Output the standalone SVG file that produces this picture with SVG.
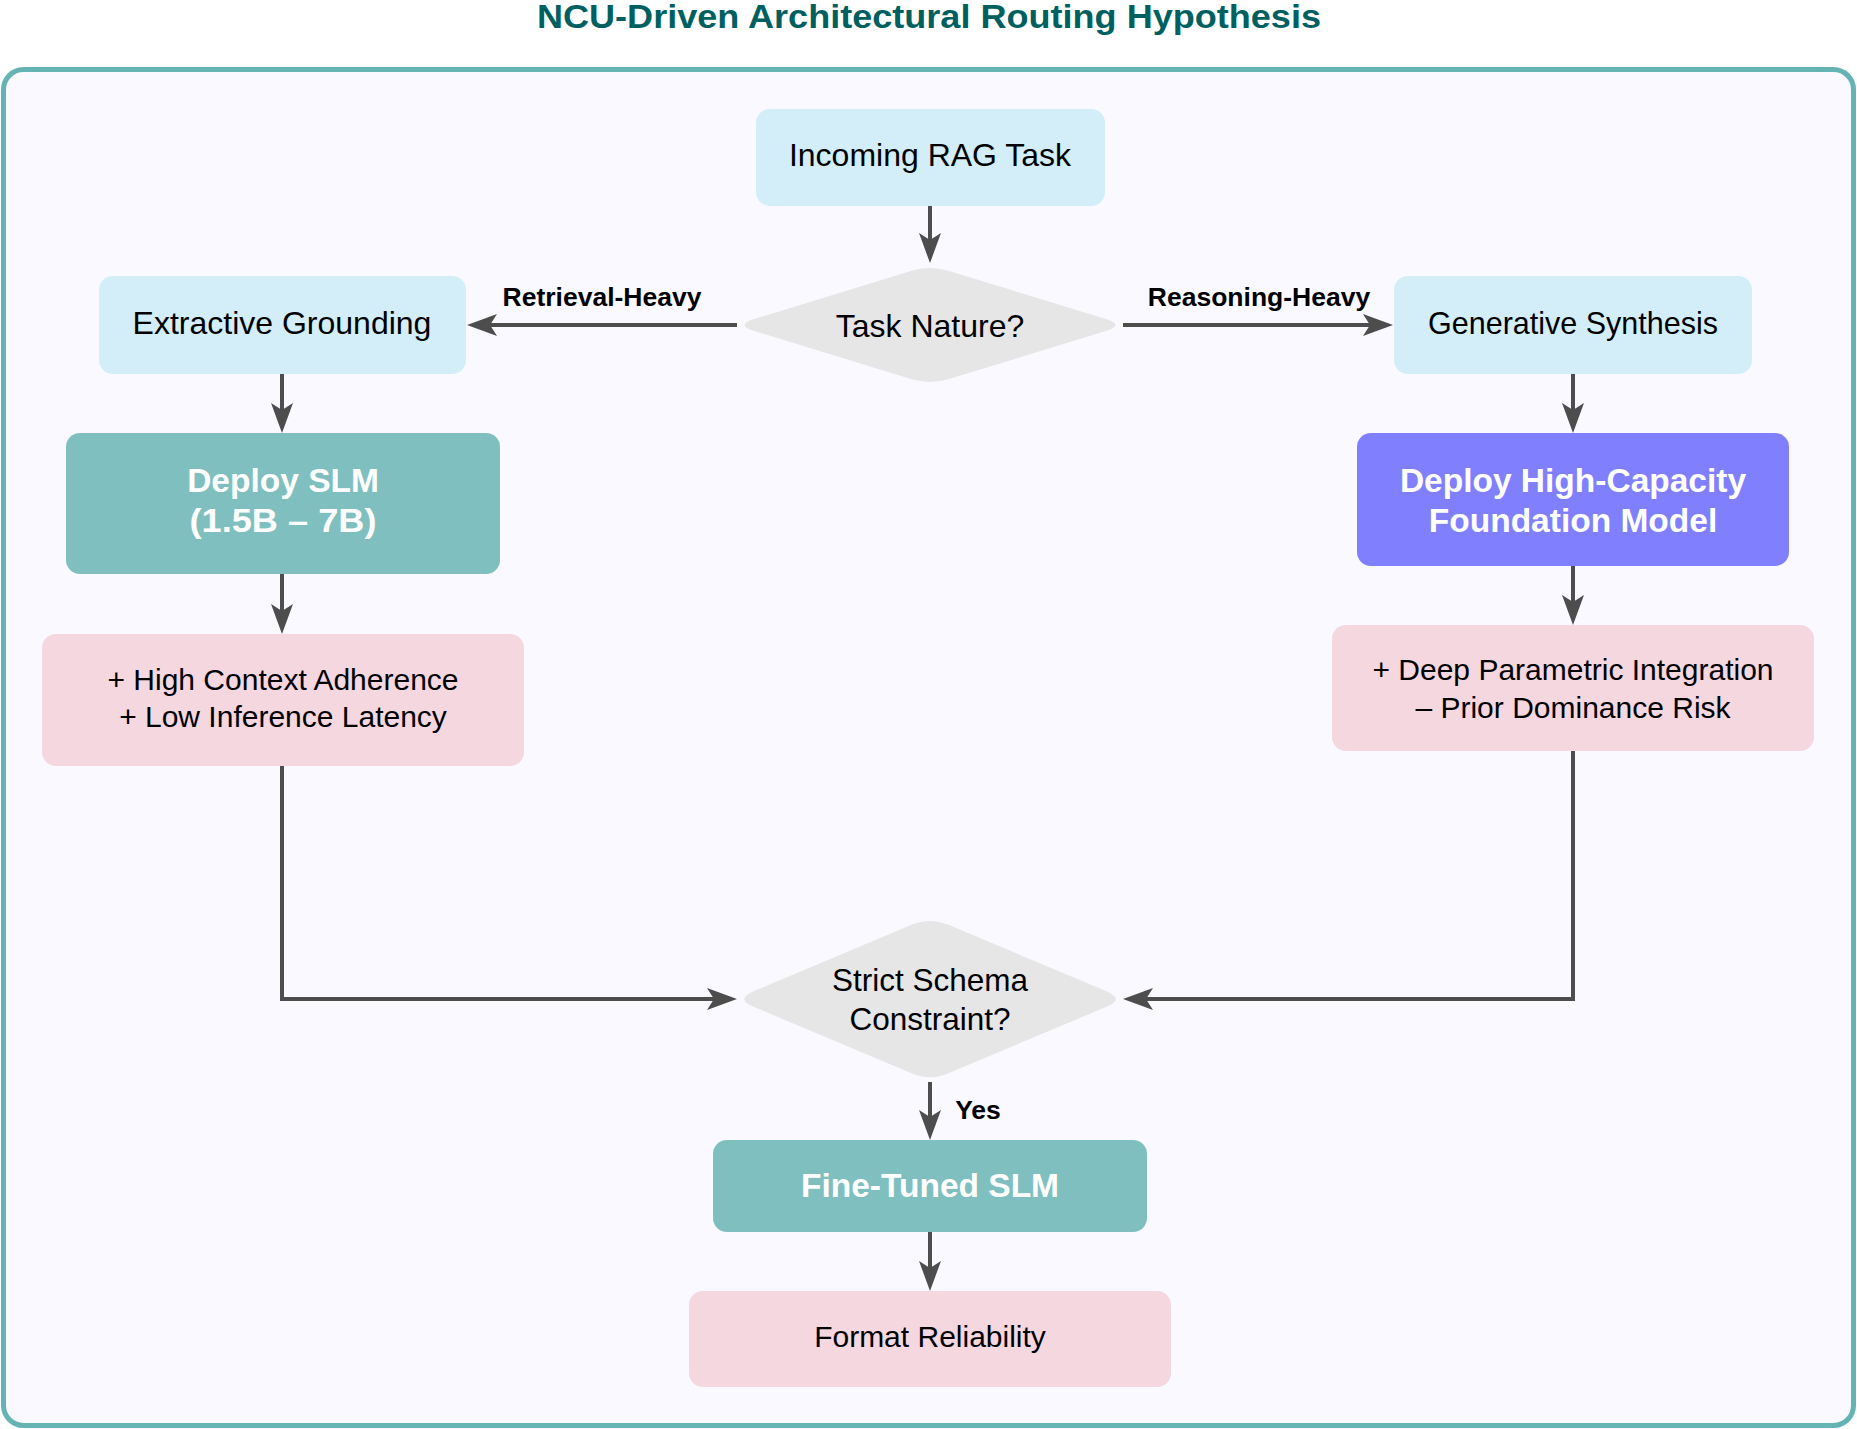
<svg xmlns="http://www.w3.org/2000/svg" width="1857" height="1429" viewBox="0 0 1857 1429">
<defs>
<style>
.t{font-family:"Liberation Sans",Arial,sans-serif;font-size:30px;fill:#000;text-anchor:middle}
.tm{font-family:"Liberation Sans",Arial,sans-serif;font-size:32px;fill:#000;text-anchor:middle}
.tb{font-family:"Liberation Sans",Arial,sans-serif;font-size:33.5px;font-weight:bold;fill:#fff;text-anchor:middle}
.lbl{font-family:"Liberation Sans",Arial,sans-serif;font-size:26.5px;font-weight:bold;fill:#000;text-anchor:middle}
.blue{fill:#d3eef9}
.teal{fill:#80bfbf}
.purple{fill:#8080ff}
.pink{fill:#f5d7e0}
.dia{fill:#e6e6e6}
.c{fill:none;stroke:#4d4d4d;stroke-width:4;marker-end:url(#ah)}
</style>
<marker id="ah" markerUnits="userSpaceOnUse" markerWidth="34" markerHeight="26" viewBox="-22 -13 34 26" refX="0" refY="0" orient="auto">
<path d="M10,0 L-20,-11 L-13,0 L-20,11 Z" fill="#4d4d4d"/>
</marker>
</defs>
<rect width="1857" height="1429" fill="#ffffff"/>
<text x="929" y="28" textLength="784" lengthAdjust="spacingAndGlyphs" style="font-family:'Liberation Sans',Arial,sans-serif;font-size:34px;font-weight:bold;fill:#005f5f;text-anchor:middle">NCU-Driven Architectural Routing Hypothesis</text>
<rect id="frame" x="3.5" y="69.5" width="1850" height="1356" rx="20" fill="#f9f9ff" stroke="#66b3b3" stroke-width="5"/>

<g id="connectors">
<path class="c" d="M930,206 L930,253"/>
<path class="c" d="M737,325 L477,325"/>
<path class="c" d="M1123,325 L1383,325"/>
<path class="c" d="M282,374 L282,423"/>
<path class="c" d="M282,574 L282,624"/>
<path class="c" d="M1573,374 L1573,423"/>
<path class="c" d="M1573,566 L1573,615"/>
<path class="c" d="M282,766 L282,999 L727,999"/>
<path class="c" d="M1573,751 L1573,999 L1133,999"/>
<path class="c" d="M930,1082 L930,1130"/>
<path class="c" d="M930,1232 L930,1281"/>
<text class="lbl" x="602" y="306">Retrieval-Heavy</text>
<text class="lbl" x="1259" y="306">Reasoning-Heavy</text>
<text class="lbl" x="978" y="1119">Yes</text>
</g>

<g id="incoming">
<rect class="blue" x="756" y="109" width="349" height="97" rx="14"/>
<text class="tm" x="930" y="166">Incoming RAG Task</text>
</g>

<g id="task-nature">
<path class="dia" d="M910.88,270.88 Q930,265 949.12,270.88 L1105.88,319.12 Q1125,325 1105.88,330.88 L949.12,379.12 Q930,385 910.88,379.12 L754.12,330.88 Q735,325 754.12,319.12 Z"/>
<text class="tm" x="930" y="337">Task Nature?</text>
</g>

<g id="extractive">
<rect class="blue" x="99" y="276" width="367" height="98" rx="14"/>
<text class="tm" x="282" y="334">Extractive Grounding</text>
</g>

<g id="generative">
<rect class="blue" x="1394" y="276" width="358" height="98" rx="14"/>
<text class="tm" x="1573" y="334" style="font-size:30.5px">Generative Synthesis</text>
</g>

<g id="deploy-slm">
<rect class="teal" x="66" y="433" width="434" height="141" rx="14"/>
<text class="tb" x="283" y="492">Deploy SLM</text>
<text class="tb" x="283" y="532" textLength="187" lengthAdjust="spacingAndGlyphs">(1.5B – 7B)</text>
</g>

<g id="deploy-hc">
<rect class="purple" x="1357" y="433" width="432" height="133" rx="14"/>
<text class="tb" x="1573" y="492">Deploy High-Capacity</text>
<text class="tb" x="1573" y="532">Foundation Model</text>
</g>

<g id="slm-props">
<rect class="pink" x="42" y="634" width="482" height="132" rx="14"/>
<text class="t" x="283" y="690">+ High Context Adherence</text>
<text class="t" x="283" y="727">+ Low Inference Latency</text>
</g>

<g id="hc-props">
<rect class="pink" x="1332" y="625" width="482" height="126" rx="14"/>
<text class="t" x="1573" y="680">+ Deep Parametric Integration</text>
<text class="t" x="1573" y="718">– Prior Dominance Risk</text>
</g>

<g id="schema">
<path class="dia" d="M911.56,924.75 Q930,917 948.44,924.75 L1106.56,991.25 Q1125,999 1106.56,1006.75 L948.44,1073.25 Q930,1081 911.56,1073.25 L753.44,1006.75 Q735,999 753.44,991.25 Z"/>
<text class="tm" x="930" y="991" style="font-size:31.5px">Strict Schema</text>
<text class="tm" x="930" y="1030" style="font-size:31.5px">Constraint?</text>
</g>

<g id="fine-tuned">
<rect class="teal" x="713" y="1140" width="434" height="92" rx="14"/>
<text class="tb" x="930" y="1197">Fine-Tuned SLM</text>
</g>

<g id="format">
<rect class="pink" x="689" y="1291" width="482" height="96" rx="14"/>
<text class="t" x="930" y="1347">Format Reliability</text>
</g>
</svg>
